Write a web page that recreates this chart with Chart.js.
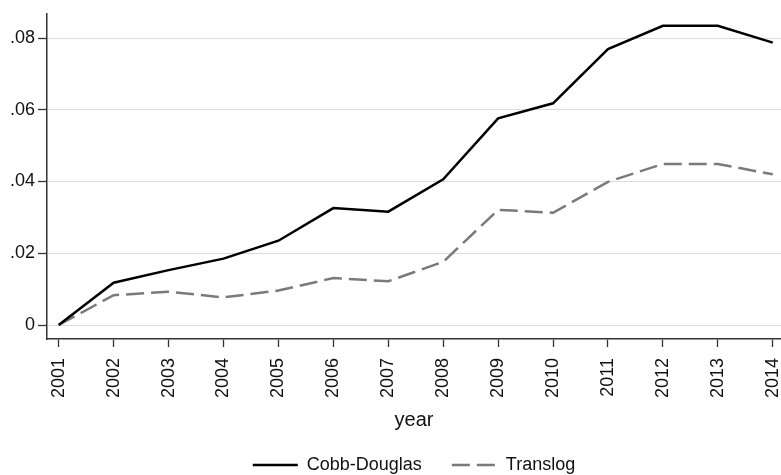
<!DOCTYPE html>
<html>
<head>
<meta charset="utf-8">
<script src="https://cdn.jsdelivr.net/npm/chart.js@4.4.1/dist/chart.umd.min.js"></script>
<style>
  html, body { margin: 0; padding: 0; background: #fff; }
  #wrap { width: 781px; height: 475px; }
</style>
</head>
<body>
<div id="wrap"><canvas id="c" width="781" height="475"></canvas></div>
<script>
// Cumulative effect by year, two production-function specifications
const years = [2001, 2002, 2003, 2004, 2005, 2006, 2007, 2008, 2009, 2010, 2011, 2012, 2013, 2014];
const cobbDouglas = [0, 0.0118, 0.0153, 0.0185, 0.0235, 0.0326, 0.0316, 0.0406, 0.0576, 0.0618, 0.0769, 0.0834, 0.0834, 0.0787];
const translog = [0, 0.0083, 0.0093, 0.0077, 0.0096, 0.0131, 0.0122, 0.0176, 0.0321, 0.0313, 0.0399, 0.0449, 0.0449, 0.0420];
const yTicks = [0, 0.02, 0.04, 0.06, 0.08];
const seriesNames = ['Cobb-Douglas', 'Translog'];
const xTitle = 'year';

const FONT = "'Liberation Sans', Arial, sans-serif";
const toPoints = vals => years.map((y, i) => ({ x: y, y: vals[i] }));
const fmtY = v => (v === 0 ? '0' : v.toFixed(2).replace(/^0/, ''));

new Chart(document.getElementById('c'), {
  type: 'line',
  data: {
    datasets: [
      {
        label: seriesNames[0],
        data: toPoints(cobbDouglas),
        borderColor: '#000',
        borderWidth: 2.5,
        pointRadius: 0,
        tension: 0,
        fill: false
      },
      {
        label: seriesNames[1],
        data: toPoints(translog),
        borderColor: '#7a7a7a',
        borderWidth: 2.5,
        borderDash: [18, 7],
        pointRadius: 0,
        tension: 0,
        fill: false
      }
    ]
  },
  options: {
    responsive: false,
    animation: false,
    events: [],
    layout: { padding: { top: 14, right: 0, left: 0, bottom: -9 } },
    plugins: {
      tooltip: { enabled: false },
      legend: {
        position: 'bottom',
        fullSize: false,
        labels: {
          usePointStyle: true,
          pointStyle: 'line',
          pointStyleWidth: 45,
          padding: 30,
          color: '#111',
          font: { family: FONT, size: 18 },
          // legend keys take the dash pattern and width of their series line
          generateLabels: chart => {
            const items = Chart.defaults.plugins.legend.labels.generateLabels(chart);
            items.forEach(it => {
              const ds = chart.data.datasets[it.datasetIndex];
              it.lineDash = ds.borderDash || [];
              it.lineWidth = ds.borderWidth;
              it.strokeStyle = ds.borderColor;
            });
            return items;
          }
        }
      }
    },
    scales: {
      x: {
        type: 'linear',
        min: 2000.787,
        max: 2014.15,
        afterBuildTicks: s => { s.ticks = years.map(v => ({ value: v })); },
        afterFit: s => { s.height = 87; s.paddingLeft = 0; s.paddingRight = 0; },
        ticks: {
          minRotation: 90,
          maxRotation: 90,
          autoSkip: false,
          padding: 11,
          color: '#111',
          font: { family: FONT, size: 18 },
          callback: v => String(v)
        },
        grid: {
          drawOnChartArea: false,
          drawTicks: true,
          tickLength: 8,
          tickColor: '#333',
          tickWidth: 1.3
        },
        border: { color: '#333', width: 1.5 },
        title: {
          display: true,
          text: xTitle,
          color: '#111',
          padding: { top: 0, bottom: 0 },
          font: { family: FONT, size: 20, lineHeight: 0.6 }
        }
      },
      y: {
        type: 'linear',
        min: -0.0039,
        max: 0.08669,
        afterBuildTicks: s => { s.ticks = yTicks.map(v => ({ value: v })); },
        afterFit: s => { s.width = 47; s.paddingTop = 0; s.paddingBottom = 0; },
        ticks: {
          padding: 3,
          color: '#111',
          font: { family: FONT, size: 18 },
          callback: v => fmtY(v)
        },
        grid: {
          color: '#dcdcdc',
          lineWidth: 1,
          tickLength: 9,
          tickColor: '#333',
          tickWidth: 1.3
        },
        border: { color: '#333', width: 1.5 }
      }
    }
  }
});
</script>
</body>
</html>
